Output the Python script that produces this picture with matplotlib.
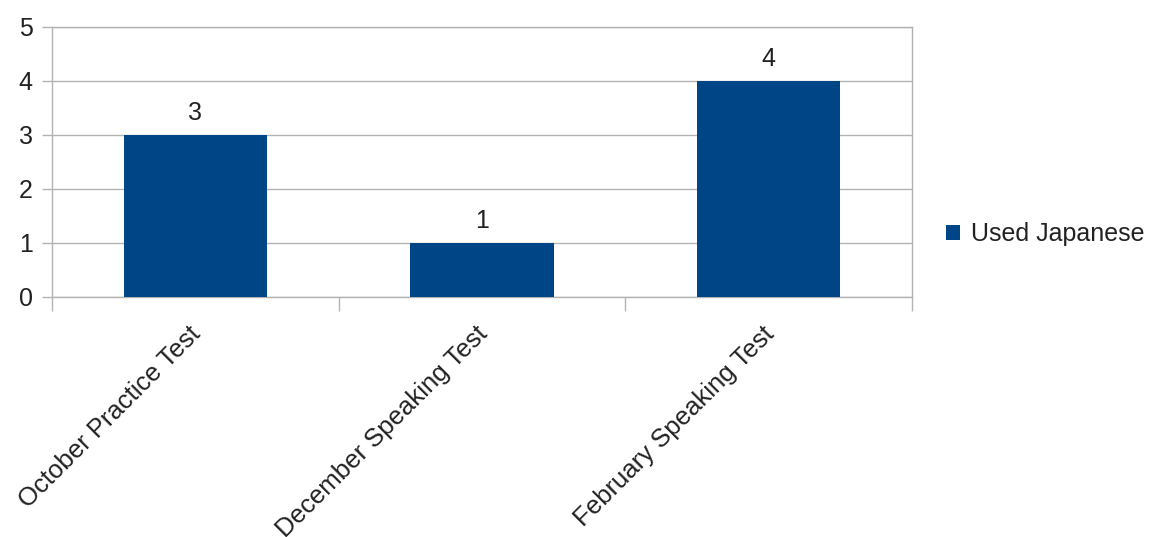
import matplotlib.pyplot as plt
import numpy as np

plt.rcParams['font.family'] = ['Liberation Sans', 'DejaVu Sans']

tests = ['October Practice Test', 'December Speaking Test', 'February Speaking Test']
used_japanese = [3, 1, 4]

fig = plt.figure(figsize=(11.52, 5.37), dpi=100)
ax = fig.add_axes([52 / 1152, 1 - 297 / 537, 860 / 1152, 270 / 537])

x = np.arange(len(tests))
bars = ax.bar(x, used_japanese, width=0.5, color='#004586', label='Used Japanese', zorder=3)
for b, v in zip(bars, used_japanese):
    ax.annotate(str(v), (b.get_x() + b.get_width() / 2, v), xytext=(0, 7),
                textcoords='offset points', ha='center', va='bottom',
                fontsize=18, color='#222222')

ax.set_xlim(-0.5, len(tests) - 0.5)
ax.set_ylim(0, 5)
ax.set_yticks(range(6))
ax.yaxis.grid(True, color='#b3b3b3', linewidth=1, zorder=0)

# ticks sit on the category boundaries; names are drawn under each bar
ax.set_xticks(np.arange(-0.5, len(tests)))
ax.set_xticklabels([])
for xi, name in zip(x, tests):
    ax.annotate(name, (xi, 0), xycoords=ax.get_xaxis_transform(), xytext=(-5, -18),
                textcoords='offset points', ha='right', va='top', rotation=45,
                rotation_mode='anchor', fontsize=18.5, color='#222222')

ax.tick_params(axis='x', length=10, color='#b3b3b3', width=1)
ax.tick_params(axis='y', length=7, color='#b3b3b3', width=1, labelsize=18,
               labelcolor='#222222', pad=7)

for s in ax.spines.values():
    s.set_color('#b3b3b3')
    s.set_linewidth(1)

fig.legend(handles=[bars], labels=['Used Japanese'], loc='center left',
           bbox_to_anchor=(946 / 1152, 1 - 234 / 537), frameon=False, fontsize=18,
           labelcolor='#222222', borderpad=0, borderaxespad=0,
           handlelength=0.55, handleheight=0.55, handletextpad=0.45)

fig.savefig('out.png', dpi=100, facecolor='white')
